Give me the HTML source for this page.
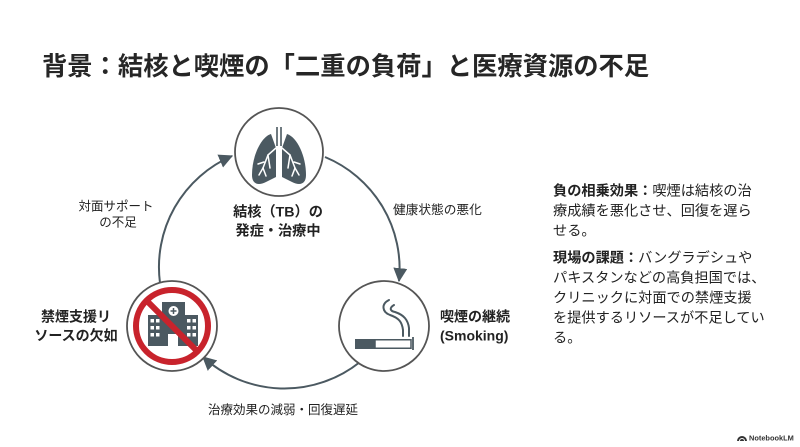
<!DOCTYPE html>
<html><head><meta charset="utf-8">
<style>
html,body{margin:0;padding:0;background:#fff;}
body{width:800px;height:447px;overflow:hidden;position:relative;}
svg{position:absolute;left:0;top:0;}
text{font-family:"Liberation Sans","Noto Sans CJK JP",sans-serif;fill:#222;}
.b{font-weight:700;}
</style></head>
<body>
<svg width="800" height="447" viewBox="0 0 800 447" xmlns="http://www.w3.org/2000/svg">
<defs>
<marker id="ah" viewBox="0 0 12 12" refX="11" refY="6" markerWidth="14" markerHeight="14" markerUnits="userSpaceOnUse" orient="auto">
<path d="M0,0 L12,6 L0,12 Z" fill="#4b5961"/>
</marker>
</defs>

<!-- Title -->
<text x="42" y="75" class="b" font-size="25.3" style="fill:#262626">背景：結核と喫煙の「二重の負荷」と医療資源の不足</text>

<!-- Arcs -->
<path d="M160,283 A121,121 0 0 1 232,156" fill="none" stroke="#4b5961" stroke-width="2" marker-end="url(#ah)"/>
<path d="M325,157 A121,121 0 0 1 399,281" fill="none" stroke="#4b5961" stroke-width="2" marker-end="url(#ah)"/>
<path d="M360,362 A121,121 0 0 1 203,357" fill="none" stroke="#4b5961" stroke-width="2" marker-end="url(#ah)"/>

<!-- Circles -->
<circle cx="279" cy="152" r="44" fill="#fff" stroke="#555" stroke-width="1.8"/>
<circle cx="172" cy="326" r="45" fill="#fff" stroke="#555" stroke-width="1.8"/>
<circle cx="384" cy="326" r="45" fill="#fff" stroke="#555" stroke-width="1.8"/>

<!-- Lungs -->
<g fill="#4b5961">
<path d="M271,134 C261,137 252,156 252,175 C252,184 258,186 266,182 L276,177 L276,148 Z"/>
<path d="M287,134 C297,137 306,156 306,175 C306,184 300,186 292,182 L282,177 L282,148 Z"/>
</g>
<g stroke="#4b5961" stroke-width="1.6" fill="none">
<line x1="277" y1="127" x2="277" y2="146"/>
<line x1="281" y1="127" x2="281" y2="146"/>
</g>
<g stroke="#fff" stroke-width="1.5" fill="none" stroke-linecap="round">
<path d="M276,148 L268,155 L263,168"/>
<path d="M268,155 L270,168"/>
<path d="M264,162 L258,164"/>
<path d="M263,168 L259,175"/>
<path d="M263,168 L266,176"/>
<path d="M282,148 L290,155 L295,168"/>
<path d="M290,155 L288,168"/>
<path d="M294,162 L300,164"/>
<path d="M295,168 L299,175"/>
<path d="M295,168 L292,176"/>
</g>

<!-- Hospital -->
<g fill="#4b5961">
<rect x="162" y="302" width="23" height="44"/>
<rect x="148" y="315" width="15" height="31"/>
<rect x="184" y="315" width="14" height="31"/>
</g>
<g fill="#fff">
<circle cx="173.5" cy="311" r="5"/>
<rect x="168" y="334" width="10" height="12"/>
<rect x="150.5" y="319" width="3.5" height="3.5"/><rect x="156" y="319" width="3.5" height="3.5"/>
<rect x="150.5" y="326" width="3.5" height="3.5"/><rect x="156" y="326" width="3.5" height="3.5"/>
<rect x="150.5" y="333" width="3.5" height="3.5"/><rect x="156" y="333" width="3.5" height="3.5"/>
<rect x="187" y="319" width="3.5" height="3.5"/><rect x="192.5" y="319" width="3.5" height="3.5"/>
<rect x="187" y="326" width="3.5" height="3.5"/><rect x="192.5" y="326" width="3.5" height="3.5"/>
<rect x="187" y="333" width="3.5" height="3.5"/><rect x="192.5" y="333" width="3.5" height="3.5"/>
</g>
<g stroke="#4b5961" stroke-width="1.5">
<line x1="173.5" y1="308" x2="173.5" y2="314"/>
<line x1="170.5" y1="311" x2="176.5" y2="311"/>
</g>
<circle cx="172" cy="326" r="36" fill="none" stroke="#c8232c" stroke-width="6"/>
<line x1="147" y1="301" x2="197" y2="351" stroke="#c8232c" stroke-width="6"/>

<!-- Cigarette -->
<rect x="355" y="339" width="20" height="10" fill="#4b5961"/>
<rect x="375" y="339.75" width="36" height="8.5" fill="#fff" stroke="#4b5961" stroke-width="1.5"/>
<line x1="413" y1="337" x2="413" y2="350" stroke="#4b5961" stroke-width="1.8"/>
<g fill="none" stroke="#4b5961" stroke-width="2" stroke-linecap="round">
<path d="M389,300 C381,304 382,312 390,315 C399,318 402,322 403,330 L403,336"/>
<path d="M394,305 C389,308 390,311 395,312 C404,315 408,320 409,328 L409,336"/>
</g>

<!-- Labels -->
<text x="116" y="210.5" font-size="12.5" text-anchor="middle">対面サポート</text>
<text x="118" y="226.5" font-size="12.5" text-anchor="middle">の不足</text>

<text x="278" y="216.5" font-size="14.2" class="b" text-anchor="middle">結核（TB）の</text>
<text x="278" y="235.5" font-size="14.2" class="b" text-anchor="middle">発症・治療中</text>

<text x="393" y="214" font-size="12.7">健康状態の悪化</text>

<text x="76" y="321.5" font-size="14" class="b" text-anchor="middle">禁煙支援リ</text>
<text x="76" y="340.5" font-size="14" class="b" text-anchor="middle">ソースの欠如</text>

<text x="440" y="321.5" font-size="14" class="b">喫煙の継続</text>
<text x="440" y="340.5" font-size="14" class="b">(Smoking)</text>

<text x="283" y="414" font-size="12.5" text-anchor="middle">治療効果の減弱・回復遅延</text>

<!-- Right text -->
<g font-size="14.2">
<text x="553" y="195.3"><tspan class="b">負の相乗効果：</tspan>喫煙は結核の治</text>
<text x="553" y="215.3">療成績を悪化させ、回復を遅ら</text>
<text x="553" y="235.3">せる。</text>
<text x="553" y="262.3"><tspan class="b">現場の課題：</tspan>バングラデシュや</text>
<text x="553" y="282.3">パキスタンなどの高負担国では、</text>
<text x="553" y="302.3">クリニックに対面での禁煙支援</text>
<text x="553" y="322.3">を提供するリソースが不足してい</text>
<text x="553" y="342.3">る。</text>
</g>

<!-- NotebookLM logo -->
<g fill="#333">
<path d="M737,441 A5,5 0 0 1 747,441 L745,441 A3,3 0 0 0 739,441 Z"/>
<path d="M740,441 A2,2 0 0 1 744,441 Z"/>
</g>
<text x="749" y="440.5" font-size="7.4" class="b" style="fill:#333">NotebookLM</text>
</svg>
</body></html>
